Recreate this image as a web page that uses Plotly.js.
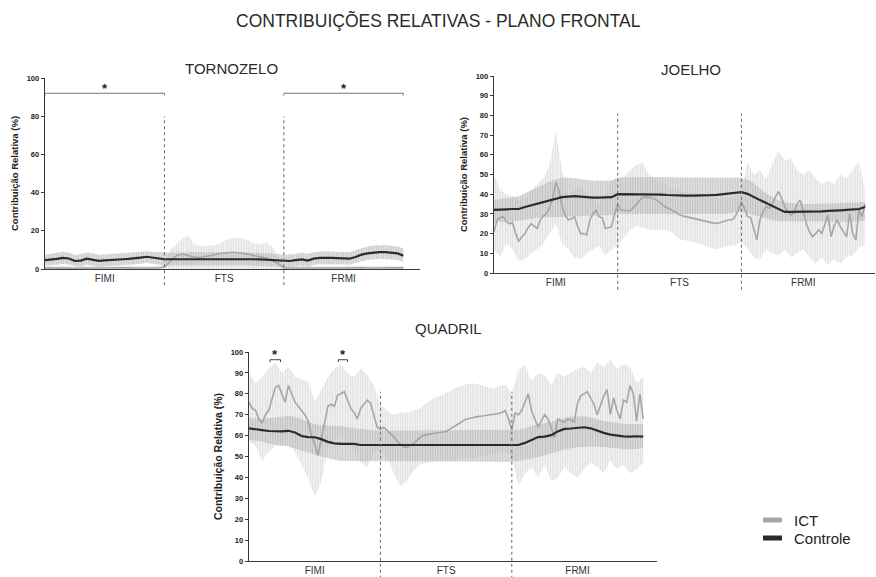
<!DOCTYPE html>
<html><head><meta charset="utf-8">
<script src="https://cdn.plot.ly/plotly-3.0.1.min.js"></script>
<style>html,body{margin:0;padding:0;background:#fff}#chart{width:876px;height:577px}</style>
</head><body><div id="chart"></div>
<script>
// ---- data (percent of cycle: 0-100 FIMI, 100-200 FTS, 200-300 FRMI) ----
const pct = [0,5,10,15,20,25,30,35,40,45,50,55,60,65,70,75,80,85,90,95,100,105,110,115,120,125,130,135,140,145,150,155,160,165,170,175,180,185,190,195,200,205,210,215,220,225,230,235,240,245,250,255,260,265,270,275,280,285,290,295,300];
const pctFine = [0,2.5,5,7.5,10,12.5,15,17.5,20,22.5,25,27.5,30,32.5,35,37.5,40,42.5,45,47.5,50,52.5,55,57.5,60,62.5,65,67.5,70,72.5,75,77.5,80,82.5,85,87.5,90,92.5,95,97.5,100,102.5,105,107.5,110,112.5,115,117.5,120,122.5,125,127.5,130,132.5,135,137.5,140,142.5,145,147.5,150,152.5,155,157.5,160,162.5,165,167.5,170,172.5,175,177.5,180,182.5,185,187.5,190,192.5,195,197.5,200,202.5,205,207.5,210,212.5,215,217.5,220,222.5,225,227.5,230,232.5,235,237.5,240,242.5,245,247.5,250,252.5,255,257.5,260,262.5,265,267.5,270,272.5,275,277.5,280,282.5,285,287.5,290,292.5,295,297.5,300];
const phases = ['FIMI','FTS','FRMI'];
const phaseCenters = [50,150,250];
const phaseBounds = [100,200];
const legendNames = ['ICT','Controle'];

// TORNOZELO
const torCtrl = [4.6,4.8,5.3,5.8,5.5,4.2,4.4,5.4,5.0,4.3, 4.5,4.8,5.0,5.1,5.3,5.5,6.0,6.4,6.0,5.6,
  5.1,5.1,5.1,5.2,5.2,5.3,5.3,5.3,5.4,5.4, 5.4,5.4,5.4,5.3,5.2,5.1,5.0,4.8,4.6,4.3,
  4.1,4.2,4.6,5.0,4.4,5.4,5.8,5.9,5.8,5.7, 5.5,5.4,6.3,7.5,8.2,8.6,8.8,8.8,8.5,8.2, 7.0];
const torCtrlUp = [7.5,8,8.5,9,8.7,7.2,7.8,8.7,8.2,7.5, 7.6,7.8,8,8.2,8.4,8.6,9,9.3,9,8.8,
  8.6,8.6,8.6,8.7,8.7,8.8,8.8,8.8,8.9,8.9, 8.9,8.9,8.9,8.8,8.7,8.6,8.5,8.3,8.1,7.8,
  7.3,7.5,8,8.5,8,8.8,9.2,9.3,9.2,9, 8.8,8.8,9.8,11,11.8,12.3,12.6,12.6,12.2,11.8, 10.8];
const torCtrlLow = [1.8,1.8,2.2,2.6,2.4,1.3,1.4,2.2,1.8,1.2, 1.4,1.7,1.9,2,2.2,2.4,2.8,3.1,2.8,2.4,
  1.8,1.8,1.8,1.9,1.9,2.0,2.0,2.0,2.0,2.0, 2.0,2.0,2.0,1.9,1.8,1.7,1.6,1.5,1.4,1.2,
  1.0,1.1,1.4,1.8,1.2,2.1,2.5,2.6,2.5,2.4, 2.3,2.2,2.9,4.0,4.7,5.0,5.2,5.2,5.0,4.7, 3.6];
const torIct = [0.6,0.5,0.5,0.6,0.5,0.4,0.5,0.6,0.5,0.5, 0.5,0.6,0.5,0.5,0.6,0.5,0.5,0.6,0.5,0.5,
  1.0,4.0,7.0,7.8,7.0,6.2,6.0,6.5,7.2,8.0, 8.4,8.6,8.6,8.4,7.8,7.0,6.3,5.8,4.5,3.0,
  0.6,0.5,0.5,0.6,0.5,0.5,0.6,0.5,0.5,0.5, 0.6,0.5,0.5,0.6,0.5,0.5,0.5,0.6,0.5,0.5, 0.6];
const torIctUp = [1.6,1.4,1.5,1.7,1.4,1.3,1.5,1.6,1.4,1.5, 1.5,1.6,1.4,1.5,1.7,1.5,1.4,1.6,1.5,1.5,
  3,10,13,16,17.5,13,12,12,12.5,13, 14.5,16,16.5,16,15,13.5,13,14,12,7,
  1.6,1.4,1.5,1.7,1.4,1.5,1.6,1.4,1.5,1.5, 1.6,1.4,1.5,1.7,1.5,1.4,1.5,1.6,1.4,1.5, 1.6];
const torIctLow = [0,0,0,0,0,0,0,0,0,0, 0,0,0,0,0,0,0,0,0,0,
  0,0,0,0,0,0,0,0,0,0, 0,0,0,0,0,0,0,0,0,0,
  0,0,0,0,0,0,0,0,0,0, 0,0,0,0,0,0,0,0,0,0, 0];

// JOELHO
const joeCtrl = [32,32,32.3,32.5,32.5,33.5,34.3,35.2,36,36.8, 37.5,38.5,38.8,39,38.8,38.5,38.3,38.3,38.3,38.5,
  40,40,40.1,40.1,40.1,40,40,39.8,39.6,39.4, 39.3,39.3,39.3,39.3,39.4,39.5,39.7,40,40.3,40.7,
  41,40.2,38.8,37,35.5,34,32.5,31,31,31, 31,31,31.2,31.3,31.5,31.8,31.8,32,32.2,32.5, 33.5];
const joeCtrlUp = [37,37.5,38,38.5,39,40.5,42,43.5,45,46.5, 47.5,48.3,48.5,48,47.5,47,46.8,46.8,46.8,47,
  48.5,48.6,48.6,48.7,48.7,48.7,48.7,48.6,48.6,48.5, 48.5,48.5,48.5,48.5,48.5,48.5,48.5,48.5,48.5,48.5,
  48.3,47.5,45.5,43,40.5,38.5,37,36,35.5,35.2, 35,35,35,35,35.2,35.3,35.5,35.6,35.8,35.9, 36];
const joeCtrlLow = [26,26,26,26.2,26.5,27,27.5,28,28.2,28.4, 28.5,28.6,28.7,28.8,29,29,29.2,29.3,29.4,29.5,
  30,30,30,30,30,30,30,30,30,30, 30,30,30,30,30,30,30,30,30.3,30.6,
  31,30.5,29.5,28.5,27.5,26.8,26.3,26,26,26, 26,26,26,26,26,26,26,26,26,26.2, 26.5];
const joeIct = [21,27,28,28.6,26,25,25.5,20,16,18.4, 20,23,25,24,22.6,27,29,30.3,33,38,
  46,42,34,29.4,27,27.5,28.6,24,20,20, 19.3,27,30,32,28.6,28,22.7,23,23.5,30,
  35,32,31.8,31.6,31.5,33,35,37,38.4,38.5, 38.4,38.2,37.5,36.5,35.5,34,33,32.5,31.5,30.5,
  29.5,29,28.6,28.2,27.8,27.4,27,26.6,26.3,26, 25.7,25.4,25.2,25.5,26,26.5,27,27,28.6,32,
  36.2,32.8,28.6,28.2,22,16.8,27,31,33.7,32.8, 35,38.7,41.3,38,33.7,31,29.4,30.3,35,37,
  31.8,25,21,18.4,20,21.8,20.1,25,29.4,18.4, 24,27,23.5,21,18.4,30.3,20,16.8,31.8,28.6, 35];
const joeIctUp = [50,42,40,39,37,38,42,45,48,55, 72,52,40,42,44,40,37,35.5,40.6,47,
  48,49,52,55,56,50,48,46,44.5,43, 42,41,40.5,40,39,38.5,38,38,38.5,39,
  42,56,50,52,48,55,62,57,58,52, 50,52,48,45,47,45,50,48,52,56.5, 42];
const joeIctLow = [12,8,15,12,6,7,10,12,15,20, 25,15,12,8,7,10,12,14,9,12,
  14,18,22,24,23,22,22,22,21.5,20, 17,16.5,16,15,14,13,12,13,14,14,
  16,12,8,7,12,10,9,12,8,10, 12,8,5,8,4,7,5,8,9,13, 14];

// QUADRIL
const quaCtrl = [63.5,63.2,62.6,62.2,62,62,62.3,61.5,59.8,59.3, 59.2,58.3,57,56.3,56,56,56,55.5,55.5,55.5,
  55.2,55.2,55.2,55.2,55.2,55.2,55.2,55.2,55.2,55.2, 55.2,55.2,55.3,55.3,55.3,55.3,55.3,55.3,55.3,55.3,
  55.3,55.5,56.5,58,59.3,59.5,60.2,62,63.2,63.4, 63.6,64,63.5,62.3,61.3,60.5,60,59.6,59.5,59.7, 59.5];
const quaCtrlUp = [68.5,68.3,68,68.3,68.8,69.3,69.5,69,68,66.5, 65.5,65,64.8,64.8,64.5,64,63.5,63,62.8,62.6,
  62.5,62.5,62.5,62.5,62.5,62.5,62.5,62.5,62.5,62.5, 62.5,62.5,62.5,62.5,62.5,62.5,62.5,62.5,62.5,62.5,
  62.5,62.8,63.5,64.5,65.5,66,66.5,67.5,68.5,69, 69.2,69.3,68.8,67.8,67,66.5,66,65.7,65.5,65.5, 65.5];
const quaCtrlLow = [58,57.5,57,56.2,55.7,55.3,54.8,54,53,52, 51,50,49.2,48.5,47.8,47.5,47.5,47.5,47.5,47.5,
  47.5,47.5,47.5,47.5,47.5,47.5,47.5,47.5,47.5,47.5, 47.5,47.5,47.5,47.5,47.5,47.5,47.5,47.5,47.5,47.5,
  47.5,47.8,48.3,49,49.7,50.5,51.5,52.5,53.3,54, 54.4,54.7,54.8,54.8,54.6,54.3,54,53.6,53.4,53.7, 54];
const quaIct = [76,73,72,68,66,70,72,77,83,84, 80,76,84,80,76,74,72,70,67,60,
  56,50.5,58,66,74,75,74,79.5,80,81, 77,73,71,68,73,75,77,75.5,70,64,
  63,64,62.5,61,59.5,57.5,56,54.5,54.3,55, 56,57.5,59,60,60.5,60.8,61,61.2,61.5,61.8,
  62,63,64,65.2,66,67,67.8,68.2,68.6,68.9, 69.2,69.4,69.6,69.8,70,70.3,70.6,71,72,68,
  62.7,70.8,70,72,76,80,72,68,64,67, 70,68,64,59,68,67,66.5,68,67.5,66.7,
  75.5,79,80,81,78,75,70,75,79,82, 70,78,72,68,77,76,84,80,67,80, 68];
const quaIctUp = [90,85,88,92,95,90,93,88,87,86, 76,82,88,92,94,90,88,92,89,84,
  75,72,70,71,71,72,73,75.5,77.5,79, 80.5,82,83.5,84.5,85,84.5,83.5,82.5,83.5,84.5,
  80,91,94,86,90,89,84,90,88,90, 92,93,90,95,93,96,92,94,93,85, 88];
const quaIctLow = [57,55,48,52,55,55,56,52,46,40, 31,38,55,58,60,56,53,47,45,52,
  54,50,42,36,38,43,46,47,47.5,48, 48,48,48.5,49,49,49.5,50,51,51.5,52,
  50,36,42,45,40,46,38,40,45,42, 40,44,47,45,42,48,44,46,42,44, 47];

// significant differences (ranges of the cycle)
const torSig = [[0,100],[200,300]];
const quaSig = [[16,24],[68,75]];

// ---- styles ----
const ICT_LINE = '#a6a6a6', CTRL_LINE = '#2b2b2b';
const W = 876, H = 577;
const px = v => v / W, py = v => 1 - v / H;

function band(xa, ya, up, low, bg, fg) {
  return {
    x: pct.concat(pct.slice().reverse()),
    y: up.concat(low.slice().reverse()),
    xaxis: xa, yaxis: ya, type: 'scatter', mode: 'lines', fill: 'toself',
    line: {width: 0}, fillcolor: bg,
    fillpattern: {shape: '|', size: 2.5, solidity: 0.4, fgcolor: fg, bgcolor: bg, fillmode: 'replace'},
    hoverinfo: 'skip', showlegend: false
  };
}
function line(xa, ya, x, y, color, w, name) {
  return {x: x, y: y, xaxis: xa, yaxis: ya, type: 'scatter', mode: 'lines',
    line: {color: color, width: w}, name: name, showlegend: false};
}
function panel(xa, ya, ix, iM, iU, iL, cM, cU, cL) {
  return [
    band(xa, ya, iU, iL, 'rgba(238,238,238,0.75)', 'rgba(214,214,214,0.8)'),
    band(xa, ya, cU, cL, 'rgba(200,200,200,0.55)', 'rgba(172,172,172,0.5)'),
    line(xa, ya, ix, iM, ICT_LINE, 1.6, legendNames[0]),
    line(xa, ya, pct, cM, CTRL_LINE, 2.2, legendNames[1])
  ];
}

const traces = [].concat(
  panel('x', 'y', pct, torIct, torIctUp, torIctLow, torCtrl, torCtrlUp, torCtrlLow),
  panel('x2', 'y2', pctFine, joeIct, joeIctUp, joeIctLow, joeCtrl, joeCtrlUp, joeCtrlLow),
  panel('x3', 'y3', pctFine, quaIct, quaIctUp, quaIctLow, quaCtrl, quaCtrlUp, quaCtrlLow)
);

const FONT = 'Arial, "Liberation Sans", sans-serif';
function xAxis(dom, end, yId) {
  return {domain: dom, anchor: yId, range: [0, end], showgrid: false, zeroline: false,
    showline: true, linecolor: '#3a3a3a', linewidth: 1.3, ticks: '',
    tickmode: 'array', tickvals: phaseCenters, ticktext: phases,
    tickfont: {size: 10, color: '#333', family: FONT}, fixedrange: true};
}
function yAxis(dom, dtick, xId, tsize) {
  return {domain: dom, anchor: xId, range: [0, 100], showgrid: false, zeroline: false,
    showline: true, linecolor: '#3a3a3a', linewidth: 1.3, ticks: 'outside', ticklen: 3,
    tickcolor: '#3a3a3a', dtick: dtick, tick0: 0,
    tickfont: {size: 7.5, color: '#222', family: FONT, weight: 'bold'},
    title: {text: 'Contribuição Relativa (%)', font: {size: tsize, color: '#222', family: FONT, weight: 'bold'}, standoff: 6},
    fixedrange: true};
}

const shapes = [];
const annotations = [];
[['x', 'y', 0.8], ['x2', 'y2', 0.81], ['x3', 'y3', 0.81]].forEach(([xa, ya, top]) => {
  phaseBounds.forEach(b => shapes.push({type: 'line', xref: xa, yref: ya + ' domain',
    x0: b, x1: b, y0: -0.085, y1: top, line: {color: '#666', width: 1, dash: 'dot'}}));
});
torSig.forEach(([a, b]) => {
  shapes.push({type: 'path', xref: 'x', yref: 'y', path: `M${a},90.8 L${a},92 L${b},92 L${b},90.8`, line: {color: '#777', width: 1}});
  annotations.push({xref: 'x', yref: 'y', x: (a + b) / 2, y: 94.5, text: '*', showarrow: false,
    font: {size: 13, color: '#222', family: FONT, weight: 'bold'}});
});
quaSig.forEach(([a, b]) => {
  shapes.push({type: 'path', xref: 'x3', yref: 'y3', path: `M${a},95.2 L${a},96.3 L${b},96.3 L${b},95.2`, line: {color: '#444', width: 1}});
  annotations.push({xref: 'x3', yref: 'y3', x: (a + b) / 2, y: 98.8, text: '*', showarrow: false,
    font: {size: 13, color: '#222', family: FONT, weight: 'bold'}});
});
const titles = [
  ['CONTRIBUIÇÕES RELATIVAS - PLANO FRONTAL', 438, 20, 17.5],
  ['TORNOZELO', 231, 68, 15],
  ['JOELHO', 691, 69, 15],
  ['QUADRIL', 448, 328, 15]
];
titles.forEach(([t, x, y, s]) => annotations.push({xref: 'paper', yref: 'paper', x: px(x), y: py(y),
  xanchor: 'center', yanchor: 'middle', text: t, showarrow: false, font: {size: s, color: '#2a2a2a', family: FONT}}));

// legend (drawn to match the original compact swatches)
[[ICT_LINE, 520], [CTRL_LINE, 538]].forEach(([c, y], i) => {
  shapes.push({type: 'line', xref: 'paper', yref: 'paper', x0: px(763), x1: px(782), y0: py(y), y1: py(y),
    line: {color: c, width: 5}});
  annotations.push({xref: 'paper', yref: 'paper', x: px(792), y: py(y), xanchor: 'left', yanchor: 'middle',
    text: legendNames[i], showarrow: false, font: {size: 15, color: '#222', family: FONT}});
});

const layout = {
  width: W, height: H, margin: {l: 0, r: 0, t: 0, b: 0},
  paper_bgcolor: '#fff', plot_bgcolor: 'rgba(0,0,0,0)',
  font: {family: FONT, color: '#222'},
  showlegend: false,
  xaxis: xAxis([px(45), px(420)], 314, 'y'),
  yaxis: yAxis([py(269), py(78)], 20, 'x', 9.5),
  xaxis2: xAxis([px(494), px(875)], 308, 'y2'),
  yaxis2: yAxis([py(273), py(76)], 10, 'x2', 9.5),
  xaxis3: xAxis([px(249), px(657)], 310.5, 'y3'),
  yaxis3: yAxis([py(561), py(352)], 10, 'x3', 10.5),
  shapes: shapes,
  annotations: annotations
};

Plotly.newPlot('chart', traces, layout, {displayModeBar: false, staticPlot: true});
</script></body></html>
